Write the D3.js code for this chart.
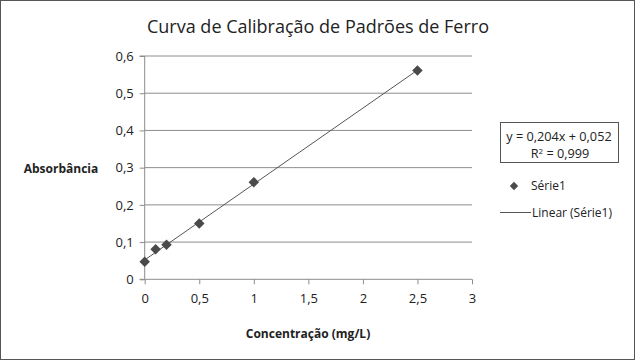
<!DOCTYPE html>
<html><head><meta charset="utf-8">
<script src="https://cdn.jsdelivr.net/npm/d3@7"></script>
<style>body{margin:0;background:#fff}svg{display:block}</style>
</head><body>
<script>
const concentrations = [0, 0.1, 0.2, 0.5, 1.0, 2.5];
const absorbances = [0.047, 0.081, 0.093, 0.150, 0.261, 0.561];
const xTicks = [0, 0.5, 1, 1.5, 2, 2.5, 3];
const yTicks = [0, 0.1, 0.2, 0.3, 0.4, 0.5, 0.6];
const slope = 0.204, intercept = 0.052;
const titleText = "Curva de Calibração de Padrões de Ferro";
const fmt = d => String(d).replace(".", ",");
const font = "'Open Sans', 'Noto Sans', sans-serif";

const W = 635, H = 360;
const svg = d3.select("body").append("svg").attr("width", W).attr("height", H);
svg.append("rect").attr("x", 0.5).attr("y", 0.5).attr("width", W - 1).attr("height", H - 1)
  .attr("fill", "#fff").attr("stroke", "#555").attr("stroke-width", 1);

const x = d3.scaleLinear().domain([0, 3]).range([144.7, 472]);
const y = d3.scaleLinear().domain([0, 0.6]).range([279.3, 56]);

// gridlines
svg.append("g").selectAll("line").data(yTicks.slice(1)).join("line")
  .attr("x1", x(0)).attr("x2", x(3)).attr("y1", d => y(d)).attr("y2", d => y(d))
  .attr("stroke", "#8c8c8c").attr("stroke-width", 1);

// y axis
const ya = svg.append("g").attr("transform", `translate(${x(0)},0)`)
  .call(d3.axisLeft(y).tickValues(yTicks).tickFormat(fmt).tickSize(5).tickPadding(6));
ya.select(".domain").attr("stroke", "#8c8c8c").attr("d", `M-5,${y(0.6)}H0V${y(0)}H-5`);
ya.selectAll(".tick line").attr("stroke", "#8c8c8c");
ya.selectAll("text").attr("font-family", font).attr("font-size", 13).attr("fill", "#222");

// x axis
const xa = svg.append("g").attr("transform", `translate(0,${y(0)})`)
  .call(d3.axisBottom(x).tickValues(xTicks).tickFormat(fmt).tickSize(5).tickPadding(9));
xa.select(".domain").attr("stroke", "#8c8c8c").attr("d", `M${x(0)},0H${x(3)}`);
xa.selectAll(".tick line").attr("stroke", "#8c8c8c");
xa.selectAll("text").attr("font-family", font).attr("font-size", 13).attr("fill", "#222");

// trendline
const x0 = d3.min(concentrations), x1 = d3.max(concentrations);
svg.append("line")
  .attr("x1", x(x0)).attr("y1", y(slope * x0 + intercept))
  .attr("x2", x(x1)).attr("y2", y(slope * x1 + intercept))
  .attr("stroke", "#555").attr("stroke-width", 1);

// markers
const diamond = d3.symbol().type(d3.symbolDiamond2).size(70);
svg.append("g").selectAll("path").data(concentrations).join("path")
  .attr("d", diamond)
  .attr("transform", (d, i) => `translate(${x(d)},${y(absorbances[i])})`)
  .attr("fill", "#4a4a4a");

// title
svg.append("text").attr("x", 318).attr("y", 33).attr("text-anchor", "middle")
  .attr("font-family", font).attr("font-size", 18).attr("fill", "#222").text(titleText);

// axis titles
svg.append("text").attr("x", 61).attr("y", 173).attr("text-anchor", "middle")
  .attr("font-family", font).attr("font-size", 12).attr("font-weight", "bold").attr("fill", "#222")
  .text("Absorbância");
svg.append("text").attr("x", 308).attr("y", 338).attr("text-anchor", "middle")
  .attr("font-family", font).attr("font-size", 12).attr("font-weight", "bold").attr("fill", "#222")
  .text("Concentração (mg/L)");

// equation box
svg.append("rect").attr("x", 500.5).attr("y", 122.5).attr("width", 118).attr("height", 40)
  .attr("fill", "#fff").attr("stroke", "#555");
svg.append("text").attr("x", 559).attr("y", 141).attr("text-anchor", "middle")
  .attr("font-family", font).attr("font-size", 12.7).attr("fill", "#222")
  .text(`y = ${fmt(slope)}x + ${fmt(intercept)}`);
const r2 = svg.append("text").attr("x", 560).attr("y", 157.5).attr("text-anchor", "middle")
  .attr("font-family", font).attr("font-size", 12.7).attr("fill", "#222");
r2.append("tspan").text("R");
r2.append("tspan").attr("dy", -4).attr("font-size", 8).text("2");
r2.append("tspan").attr("dy", 4).text(" = 0,999");

// legend
svg.append("path").attr("d", d3.symbol().type(d3.symbolDiamond2).size(45))
  .attr("transform", "translate(514,186)").attr("fill", "#4a4a4a");
svg.append("text").attr("x", 531).attr("y", 190).attr("font-family", font).attr("font-size", 12)
  .attr("fill", "#222").text("Série1");
svg.append("line").attr("x1", 500).attr("x2", 531).attr("y1", 212.5).attr("y2", 212.5)
  .attr("stroke", "#555");
svg.append("text").attr("x", 532).attr("y", 217).attr("font-family", font).attr("font-size", 12)
  .attr("fill", "#222").text("Linear (Série1)");
</script>
</body></html>
